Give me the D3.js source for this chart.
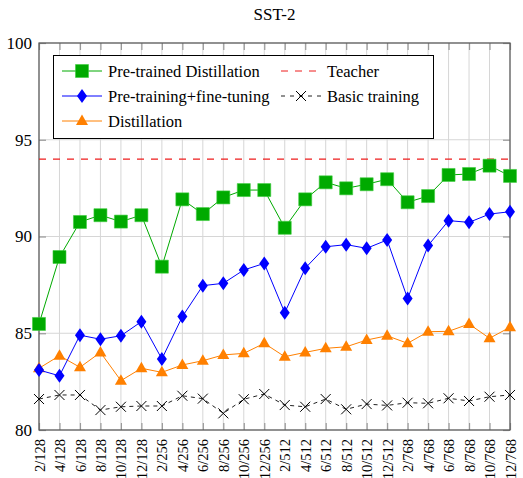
<!DOCTYPE html>
<html>
<head>
<meta charset="utf-8">
<script src="https://cdn.jsdelivr.net/npm/d3@7"></script>
</head>
<body style="margin:0;background:#fff">
<svg id="chart" width="523" height="478"></svg>
<script>
// categories on the x axis
const categories = ["2/128","4/128","6/128","8/128","10/128","12/128",
  "2/256","4/256","6/256","8/256","10/256","12/256",
  "2/512","4/512","6/512","8/512","10/512","12/512",
  "2/768","4/768","6/768","8/768","10/768","12/768"];

// series
const pretrainedDistillation = [85.48, 88.94, 90.75, 91.1, 90.77, 91.1, 88.44, 91.92, 91.16, 92.02, 92.4, 92.4,
  90.45, 91.92, 92.8, 92.49, 92.7, 92.96, 91.77, 92.09, 93.18, 93.23, 93.66, 93.13];
const pretrainingFinetuning = [83.1, 82.8, 84.9, 84.69, 84.87, 85.6, 83.67, 85.86, 87.46, 87.58, 88.27, 88.61,
  86.06, 88.36, 89.47, 89.58, 89.39, 89.82, 86.79, 89.53, 90.82, 90.73, 91.16, 91.28];
const distillation = [83.19, 83.84, 83.24, 84.01, 82.55, 83.19, 82.98, 83.36, 83.58, 83.88, 83.96, 84.48,
  83.79, 84.01, 84.22, 84.3, 84.65, 84.87, 84.48, 85.08, 85.1, 85.48, 84.74, 85.31];
const basicTraining = [81.6, 81.81, 81.81, 81.03, 81.2, 81.24, 81.24, 81.77, 81.62, 80.86, 81.59, 81.86,
  81.29, 81.2, 81.6, 81.07, 81.34, 81.27, 81.41, 81.38, 81.64, 81.5, 81.72, 81.81];
const teacher = 94.0;
const yTicks = [80, 85, 90, 95, 100];

const FONT = '"Liberation Serif"';

const svg = d3.select("#chart"),
      margin = {top: 43, right: 13, bottom: 48, left: 39},
      width = +svg.attr("width") - margin.left - margin.right,
      height = +svg.attr("height") - margin.top - margin.bottom,
      g = svg.append("g").attr("transform", `translate(${margin.left},${margin.top})`);

const x = d3.scalePoint().domain(categories).range([0, width]);
const y = d3.scaleLinear().domain([80, 100]).range([height, 0]);

// title
svg.append("text")
  .attr("x", margin.left + width / 2).attr("y", 20)
  .attr("text-anchor", "middle")
  .style("font-family", FONT)
  .style("font-size", "17px")
  .text("SST-2");

// grid
g.append("g").selectAll("line").data(categories).enter().append("line")
  .attr("x1", d => x(d)).attr("x2", d => x(d))
  .attr("y1", 0).attr("y2", height)
  .attr("stroke", "#d6d6d6").attr("stroke-width", 1);
g.append("g").selectAll("line").data(yTicks).enter().append("line")
  .attr("x1", 0).attr("x2", width)
  .attr("y1", d => y(d)).attr("y2", d => y(d))
  .attr("stroke", "#d6d6d6").attr("stroke-width", 1);

// axes (ticks inward, pgfplots style)
const axB = g.append("g").attr("transform", `translate(0,${height})`)
  .call(d3.axisBottom(x).tickSize(-7).tickPadding(6));
const axT = g.append("g").call(d3.axisTop(x).tickSize(-7).tickFormat(""));
const axL = g.append("g").call(d3.axisLeft(y).tickValues(yTicks).tickSize(-7).tickPadding(7));
const axR = g.append("g").attr("transform", `translate(${width},0)`)
  .call(d3.axisRight(y).tickValues(yTicks).tickSize(-7).tickFormat(""));
[axB, axT, axL, axR].forEach(a => {
  a.select(".domain").remove();
  a.selectAll(".tick line").attr("stroke", "#999").attr("stroke-width", 1.2);
});
axL.selectAll(".tick text").style("font-family", FONT).style("font-size", "17px").attr("fill", "#000");
axB.selectAll(".tick text")
  .style("font-family", FONT)
  .style("font-size", "14.5px").attr("fill", "#000")
  .attr("text-anchor", "end")
  .attr("transform", "rotate(-90)")
  .attr("x", -9).attr("y", 0).attr("dy", "0.35em");

g.append("rect").attr("width", width).attr("height", height)
  .attr("fill", "none").attr("stroke", "#555").attr("stroke-width", 1.2);

// teacher
g.append("line")
  .attr("x1", 0).attr("x2", width).attr("y1", y(teacher)).attr("y2", y(teacher))
  .attr("stroke", "#ee1c1c").attr("stroke-width", 1.2).attr("stroke-dasharray", "7,7");

const line = d3.line().x((d, i) => x(categories[i])).y(d => y(d));

function series(data, color, dash, marker) {
  const s = g.append("g");
  s.append("path").datum(data).attr("d", line)
    .attr("fill", "none").attr("stroke", color).attr("stroke-width", 1)
    .attr("stroke-dasharray", dash);
  s.selectAll(".m").data(data).enter().append("path")
    .attr("transform", (d, i) => `translate(${x(categories[i])},${y(d)})`)
    .each(function() { marker(d3.select(this)); });
}

const squareM = sel => sel.attr("d", "M-6.5,-6.5H6.5V6.5H-6.5Z").attr("fill", "#00aa00").attr("stroke", "#3ccc3c").attr("stroke-width", 0.6);
const diamondM = sel => sel.attr("d", "M0,-7L5,0L0,7L-5,0Z").attr("fill", "#0000ff");
const triM = sel => sel.attr("d", "M0,-6.5L6,4L-6,4Z").attr("fill", "#ff8000");
const crossM = sel => sel.attr("d", "M-5,-5L5,5M-5,5L5,-5").attr("stroke", "#000").attr("stroke-width", 1).attr("fill", "none");

series(basicTraining, "#222", "4,4", crossM);
series(distillation, "#ff8000", null, triM);
series(pretrainingFinetuning, "#0000ff", null, diamondM);
series(pretrainedDistillation, "#00aa00", null, squareM);

// legend
const lg = svg.append("g");
lg.append("rect").attr("x", 53.5).attr("y", 55.5).attr("width", 380).attr("height", 83)
  .attr("fill", "#fff").attr("stroke", "#000").attr("stroke-width", 1);
const legendItems = [
  {label: "Pre-trained Distillation", color: "#00aa00", dash: null, m: squareM, lx: 62, ly: 71},
  {label: "Pre-training+fine-tuning", color: "#0000ff", dash: null, m: diamondM, lx: 62, ly: 96},
  {label: "Distillation", color: "#ff8000", dash: null, m: triM, lx: 62, ly: 121},
  {label: "Teacher", color: "#ee1c1c", dash: "7,7", m: null, lx: 281, ly: 71},
  {label: "Basic training", color: "#222", dash: "4,5", m: crossM, lx: 281, ly: 96}
];
legendItems.forEach(d => {
  const w = 40;
  lg.append("line").attr("x1", d.lx).attr("x2", d.lx + w).attr("y1", d.ly).attr("y2", d.ly)
    .attr("stroke", d.color).attr("stroke-width", 1).attr("stroke-dasharray", d.dash);
  if (d.m) lg.append("path").attr("transform", `translate(${d.lx + w / 2},${d.ly})`).call(d.m);
  lg.append("text").attr("x", d.lx + w + 6).attr("y", d.ly).attr("dy", "0.35em")
    .style("font-family", FONT)
    .style("font-size", "16.5px").text(d.label);
});
</script>
</body>
</html>
